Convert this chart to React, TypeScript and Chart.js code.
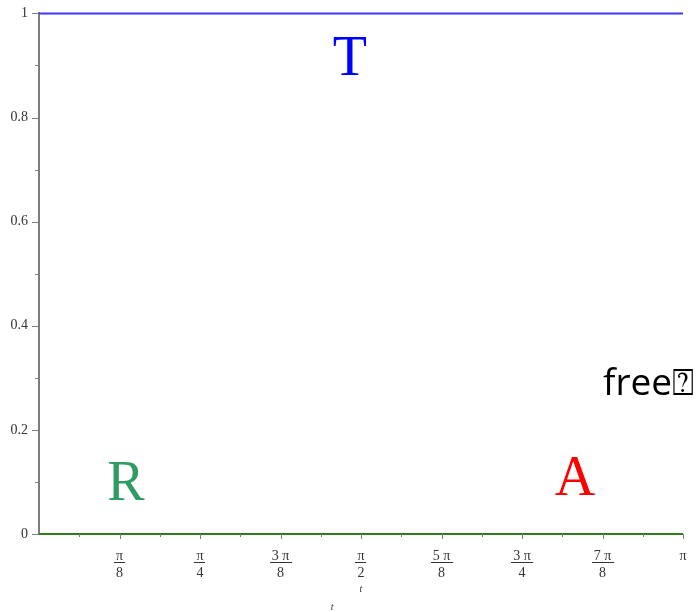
import { useEffect, useRef } from "react";
import { Chart, registerables } from "chart.js";

Chart.register(...registerables);

const PI = Math.PI;

// Parameter t runs over one half period.
const tPoints = [0, PI];
const transmission = [1, 1];
const reflection = [0, 0];
const absorption = [0, 0];

// Axis ticks (x in eighths/sixteenths of pi).
const xMajorEighths = [1, 2, 3, 4, 5, 6, 7, 8];
const xMinorSixteenths = [1, 3, 5, 7, 9, 11, 13, 15];
const xTickNumerators = ["π", "π", "3 π", "π", "5 π", "3 π", "7 π", "π"];
const xTickDenominators = ["8", "4", "8", "2", "8", "4", "8", ""];
const yMajorTicks = [0, 0.2, 0.4, 0.6, 0.8, 1];
const yMinorTicks = [0.1, 0.3, 0.5, 0.7, 0.9];
const yTickLabels = ["0", "0.2", "0.4", "0.6", "0.8", "1"];

// Curve labels placed in data coordinates.
const curveLabelTexts = ["T", "R", "A"];
const curveLabelX = [1.517, 0.424, 2.615];
const curveLabelY = [0.881, 0.065, 0.075];
const noteText = "free⍰";
const noteX = 2.751;
const noteY = 0.267;

const AXIS_GRAY = "#7d7d7d";
const TEXT_DARK = "#333333";
const SERIF = "'Liberation Serif', 'Times New Roman', serif";

const overlay = {
  id: "overlay",
  afterDraw(chart: any) {
    const ctx = chart.ctx as CanvasRenderingContext2D;
    const xs = chart.scales.x;
    const ys = chart.scales.y;
    const area = chart.chartArea;
    ctx.save();

    // y tick marks
    ctx.strokeStyle = AXIS_GRAY;
    ctx.lineWidth = 1;
    const yTick = (v: number, len: number) => {
      const py = Math.round(ys.getPixelForValue(v)) + 0.5;
      ctx.beginPath();
      ctx.moveTo(area.left - len, py);
      ctx.lineTo(area.left, py);
      ctx.stroke();
    };
    yMajorTicks.forEach((v) => yTick(v, 7));
    yMinorTicks.forEach((v) => yTick(v, 4));

    // x tick marks
    const xTick = (v: number, len: number) => {
      const px = Math.round(xs.getPixelForValue(v)) + 0.5;
      ctx.beginPath();
      ctx.moveTo(px, area.bottom);
      ctx.lineTo(px, area.bottom + len);
      ctx.stroke();
    };
    xMajorEighths.forEach((k) => xTick((k * PI) / 8, 5));
    xMinorSixteenths.forEach((k) => xTick((k * PI) / 16, 3));

    // fractional x tick labels
    ctx.fillStyle = TEXT_DARK;
    ctx.font = `14px ${SERIF}`;
    ctx.textAlign = "center";
    ctx.textBaseline = "alphabetic";
    xMajorEighths.forEach((k, i) => {
      const px = xs.getPixelForValue((k * PI) / 8);
      const num = xTickNumerators[i];
      const den = xTickDenominators[i];
      ctx.fillText(num, px, area.bottom + 26);
      if (den) {
        ctx.fillText(den, px, area.bottom + 43);
        const w = Math.max(ctx.measureText(num).width, ctx.measureText(den).width) + 4;
        ctx.fillRect(Math.round(px - w / 2), area.bottom + 28, Math.round(w), 1);
      }
    });

    // axis title
    ctx.font = `italic 10px ${SERIF}`;
    const cx = (area.left + area.right) / 2;
    ctx.fillText("t", cx, area.bottom + 58);
    ctx.fillText("t", xs.getPixelForValue(1.43), area.bottom + 76);

    // curve labels
    const colors = ["#0000ff", "#2e9c64", "#ff0000"];
    ctx.font = `56px ${SERIF}`;
    curveLabelTexts.forEach((txt, i) => {
      ctx.fillStyle = colors[i];
      ctx.fillText(txt, xs.getPixelForValue(curveLabelX[i]), ys.getPixelForValue(curveLabelY[i]));
    });

    ctx.fillStyle = "#000000";
    ctx.textAlign = "left";
    ctx.font = "37px 'Open Sans', 'DejaVu Sans', sans-serif";
    ctx.fillText(noteText, xs.getPixelForValue(noteX), ys.getPixelForValue(noteY));

    ctx.restore();
  },
};

export default function App() {
  const canvasRef = useRef<HTMLCanvasElement | null>(null);

  useEffect(() => {
    const canvas = canvasRef.current;
    if (!canvas) return;
    const pts = (ys: number[]) => tPoints.map((x, i) => ({ x, y: ys[i] }));
    const chart = new Chart(canvas, {
      type: "line",
      data: {
        datasets: [
          {
            label: "T",
            data: pts(transmission),
            borderColor: "#3a3aff",
            borderWidth: 2,
            pointRadius: 0,
            clip: false,
            order: 2,
          },
          {
            label: "R",
            data: pts(reflection),
            borderColor: "#2f7d16",
            borderWidth: 2,
            pointRadius: 0,
            clip: false,
            order: 0,
          },
          {
            label: "A",
            data: pts(absorption),
            borderColor: "#ff0000",
            borderWidth: 2,
            pointRadius: 0,
            clip: false,
            order: 1,
          },
        ],
      },
      options: {
        animation: false,
        responsive: false,
        devicePixelRatio: 1,
        layout: { padding: { top: 13, right: 17, left: 0, bottom: 0 } },
        plugins: { legend: { display: false }, tooltip: { enabled: false } },
        scales: {
          x: {
            type: "linear",
            min: 0,
            max: PI,
            grid: { display: false, drawTicks: false },
            border: { display: true, color: AXIS_GRAY, width: 1 },
            ticks: { display: false },
            afterBuildTicks: (scale: any) => {
              scale.ticks = xMajorEighths.map((k) => ({ value: (k * PI) / 8 }));
            },
            afterFit: (scale: any) => {
              scale.height = 78;
            },
          },
          y: {
            type: "linear",
            min: 0,
            max: 1,
            grid: { display: false, drawTicks: true, tickLength: 6 },
            border: { display: true, color: AXIS_GRAY, width: 2 },
            ticks: {
              padding: 5,
              color: TEXT_DARK,
              font: { family: SERIF, size: 14 },
              callback: (value: any) => {
                const idx = yMajorTicks.findIndex((v) => Math.abs(v - Number(value)) < 1e-9);
                return idx >= 0 ? yTickLabels[idx] : "";
              },
            },
            afterBuildTicks: (scale: any) => {
              scale.ticks = yMajorTicks.map((v) => ({ value: v }));
            },
            afterFit: (scale: any) => {
              scale.width = 39;
            },
          },
        },
      },
      plugins: [overlay],
    });
    return () => chart.destroy();
  }, []);

  return (
    <div style={{ position: "absolute", left: 0, top: 0, width: 700, height: 612 }}>
      <canvas ref={canvasRef} width={700} height={612} />
    </div>
  );
}
